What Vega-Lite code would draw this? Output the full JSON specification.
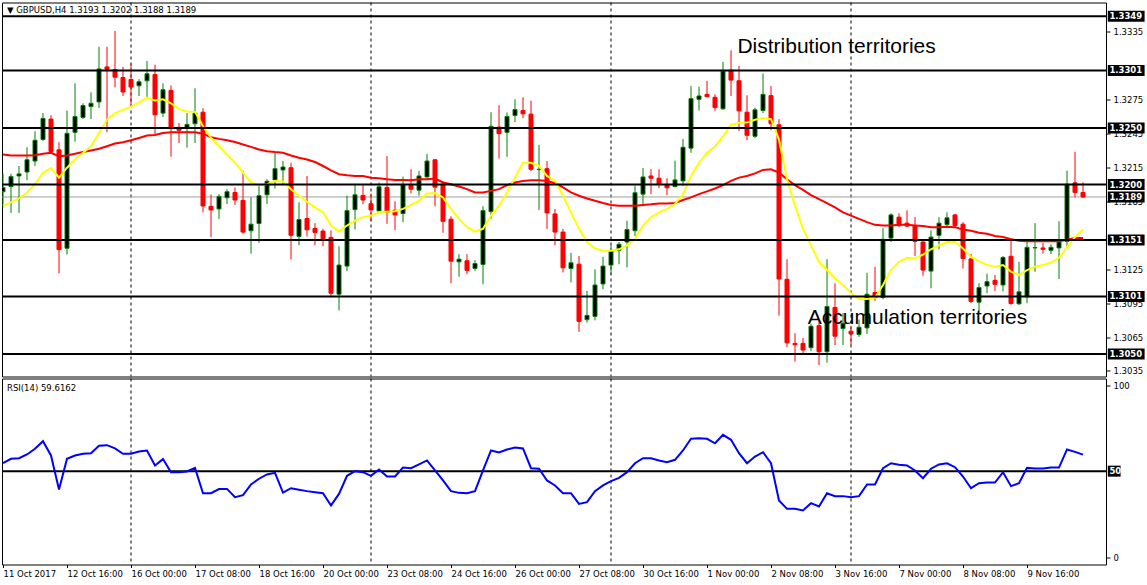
{
"$schema":"https://vega.github.io/schema/vega-lite/v6.json",
"background":"white",
"padding":{"left":0,"top":1.5,"right":0,"bottom":0},
"spacing":0,
"config":{"view":{"stroke":"black","strokeWidth":1},"axis":{"labelFont":"DejaVu Sans","labelFontSize":8.5,"labelColor":"black","tickColor":"black","grid":false,"domain":false},"scale":{"continuousPadding":0}},
"datasets":{
"seps":[{"i":16},{"i":46},{"i":76},{"i":106}],
"levels":[{"p":1.3349},{"p":1.3301},{"p":1.3250},{"p":1.3200},{"p":1.3151},{"p":1.3101},{"p":1.3050}],
"tags":[{"p":1.3349},{"p":1.3301},{"p":1.3250},{"p":1.3200},{"p":1.3189},{"p":1.3151},{"p":1.3101},{"p":1.3050}],
"candles":[
{"i":0,"o":1.31936,"h":1.32096,"l":1.31798,"c":1.31974},
{"i":1,"o":1.31982,"h":1.32096,"l":1.31749,"c":1.32070},
{"i":2,"o":1.32076,"h":1.32164,"l":1.31749,"c":1.32094},
{"i":3,"o":1.32111,"h":1.32330,"l":1.32038,"c":1.32219},
{"i":4,"o":1.32208,"h":1.32471,"l":1.32164,"c":1.32392},
{"i":5,"o":1.32398,"h":1.32632,"l":1.32386,"c":1.32585},
{"i":6,"o":1.32579,"h":1.32614,"l":1.32281,"c":1.32292},
{"i":7,"o":1.32307,"h":1.32374,"l":1.31213,"c":1.31424},
{"i":8,"o":1.31436,"h":1.32655,"l":1.31380,"c":1.32453},
{"i":9,"o":1.32462,"h":1.32895,"l":1.32380,"c":1.32602},
{"i":10,"o":1.32594,"h":1.32719,"l":1.32579,"c":1.32699},
{"i":11,"o":1.32690,"h":1.32816,"l":1.32579,"c":1.32719},
{"i":12,"o":1.32731,"h":1.33219,"l":1.32678,"c":1.33023},
{"i":13,"o":1.33041,"h":1.33219,"l":1.32462,"c":1.33020},
{"i":14,"o":1.33018,"h":1.33360,"l":1.32860,"c":1.32950},
{"i":15,"o":1.32947,"h":1.33041,"l":1.32784,"c":1.32819},
{"i":16,"o":1.32930,"h":1.33070,"l":1.32702,"c":1.32863},
{"i":17,"o":1.32874,"h":1.32933,"l":1.32784,"c":1.32909},
{"i":18,"o":1.32918,"h":1.33094,"l":1.32760,"c":1.32980},
{"i":19,"o":1.32974,"h":1.33061,"l":1.32442,"c":1.32617},
{"i":20,"o":1.32632,"h":1.32895,"l":1.32599,"c":1.32839},
{"i":21,"o":1.32833,"h":1.32877,"l":1.32246,"c":1.32494},
{"i":22,"o":1.32506,"h":1.32544,"l":1.32368,"c":1.32480},
{"i":23,"o":1.32497,"h":1.32632,"l":1.32327,"c":1.32532},
{"i":24,"o":1.32538,"h":1.32851,"l":1.32368,"c":1.32632},
{"i":25,"o":1.32640,"h":1.32675,"l":1.31754,"c":1.31810},
{"i":26,"o":1.31807,"h":1.31912,"l":1.31535,"c":1.31775},
{"i":27,"o":1.31784,"h":1.31915,"l":1.31696,"c":1.31895},
{"i":28,"o":1.31883,"h":1.31959,"l":1.31827,"c":1.31936},
{"i":29,"o":1.31930,"h":1.31974,"l":1.31819,"c":1.31863},
{"i":30,"o":1.31860,"h":1.32123,"l":1.31564,"c":1.31579},
{"i":31,"o":1.31591,"h":1.31886,"l":1.31389,"c":1.31649},
{"i":32,"o":1.31655,"h":1.31988,"l":1.31485,"c":1.31901},
{"i":33,"o":1.31909,"h":1.32047,"l":1.31827,"c":1.32029},
{"i":34,"o":1.32041,"h":1.32281,"l":1.31965,"c":1.32140},
{"i":35,"o":1.32129,"h":1.32208,"l":1.32003,"c":1.32155},
{"i":36,"o":1.32149,"h":1.32193,"l":1.31336,"c":1.31550},
{"i":37,"o":1.31541,"h":1.31842,"l":1.31462,"c":1.31690},
{"i":38,"o":1.31699,"h":1.32076,"l":1.31541,"c":1.31599},
{"i":39,"o":1.31611,"h":1.31658,"l":1.31462,"c":1.31576},
{"i":40,"o":1.31588,"h":1.31608,"l":1.31453,"c":1.31520},
{"i":41,"o":1.31532,"h":1.31594,"l":1.31000,"c":1.31038},
{"i":42,"o":1.31029,"h":1.31453,"l":1.30886,"c":1.31287},
{"i":43,"o":1.31278,"h":1.31901,"l":1.31234,"c":1.31769},
{"i":44,"o":1.31778,"h":1.31997,"l":1.31602,"c":1.31909},
{"i":45,"o":1.31904,"h":1.31994,"l":1.31825,"c":1.31863},
{"i":46,"o":1.31830,"h":1.31921,"l":1.31678,"c":1.31775},
{"i":47,"o":1.31766,"h":1.32018,"l":1.31749,"c":1.31980},
{"i":48,"o":1.31974,"h":1.32251,"l":1.31652,"c":1.31754},
{"i":49,"o":1.31772,"h":1.31851,"l":1.31596,"c":1.31731},
{"i":50,"o":1.31743,"h":1.32070,"l":1.31667,"c":1.31997},
{"i":51,"o":1.31994,"h":1.32135,"l":1.31921,"c":1.31959},
{"i":52,"o":1.31950,"h":1.32120,"l":1.31901,"c":1.32076},
{"i":53,"o":1.32067,"h":1.32272,"l":1.32061,"c":1.32208},
{"i":54,"o":1.32219,"h":1.32225,"l":1.31807,"c":1.31977},
{"i":55,"o":1.32003,"h":1.32032,"l":1.31573,"c":1.31675},
{"i":56,"o":1.31693,"h":1.31719,"l":1.31126,"c":1.31322},
{"i":57,"o":1.31316,"h":1.31383,"l":1.31184,"c":1.31339},
{"i":58,"o":1.31325,"h":1.31383,"l":1.31205,"c":1.31240},
{"i":59,"o":1.31257,"h":1.31330,"l":1.31237,"c":1.31301},
{"i":60,"o":1.31292,"h":1.31807,"l":1.31117,"c":1.31769},
{"i":61,"o":1.31760,"h":1.32640,"l":1.31696,"c":1.32515},
{"i":62,"o":1.32509,"h":1.32702,"l":1.32231,"c":1.32450},
{"i":63,"o":1.32462,"h":1.32637,"l":1.32246,"c":1.32602},
{"i":64,"o":1.32611,"h":1.32754,"l":1.32553,"c":1.32664},
{"i":65,"o":1.32655,"h":1.32772,"l":1.32588,"c":1.32626},
{"i":66,"o":1.32623,"h":1.32743,"l":1.32120,"c":1.32135},
{"i":67,"o":1.32132,"h":1.32351,"l":1.31775,"c":1.32135},
{"i":68,"o":1.32140,"h":1.32208,"l":1.31608,"c":1.31749},
{"i":69,"o":1.31740,"h":1.31784,"l":1.31462,"c":1.31579},
{"i":70,"o":1.31579,"h":1.31608,"l":1.31222,"c":1.31263},
{"i":71,"o":1.31257,"h":1.31395,"l":1.31134,"c":1.31307},
{"i":72,"o":1.31295,"h":1.31368,"l":1.30696,"c":1.30789},
{"i":73,"o":1.30804,"h":1.31058,"l":1.30778,"c":1.30842},
{"i":74,"o":1.30833,"h":1.31249,"l":1.30798,"c":1.31111},
{"i":75,"o":1.31120,"h":1.31360,"l":1.31073,"c":1.31278},
{"i":76,"o":1.31287,"h":1.31462,"l":1.31202,"c":1.31412},
{"i":77,"o":1.31418,"h":1.31491,"l":1.31295,"c":1.31471},
{"i":78,"o":1.31491,"h":1.31681,"l":1.31266,"c":1.31602},
{"i":79,"o":1.31591,"h":1.31988,"l":1.31544,"c":1.31927},
{"i":80,"o":1.31915,"h":1.32146,"l":1.31807,"c":1.32067},
{"i":81,"o":1.32076,"h":1.32135,"l":1.31915,"c":1.32056},
{"i":82,"o":1.32056,"h":1.32135,"l":1.31968,"c":1.32000},
{"i":83,"o":1.32000,"h":1.32056,"l":1.31906,"c":1.31971},
{"i":84,"o":1.31982,"h":1.32211,"l":1.31974,"c":1.32041},
{"i":85,"o":1.32032,"h":1.32404,"l":1.31988,"c":1.32330},
{"i":86,"o":1.32322,"h":1.32871,"l":1.32281,"c":1.32760},
{"i":87,"o":1.32754,"h":1.32866,"l":1.32655,"c":1.32784},
{"i":88,"o":1.32798,"h":1.32918,"l":1.32772,"c":1.32778},
{"i":89,"o":1.32772,"h":1.32798,"l":1.32652,"c":1.32681},
{"i":90,"o":1.32670,"h":1.33085,"l":1.32661,"c":1.33003},
{"i":91,"o":1.33012,"h":1.33187,"l":1.32784,"c":1.32924},
{"i":92,"o":1.32918,"h":1.33050,"l":1.32474,"c":1.32652},
{"i":93,"o":1.32640,"h":1.32790,"l":1.32392,"c":1.32436},
{"i":94,"o":1.32427,"h":1.32681,"l":1.32412,"c":1.32661},
{"i":95,"o":1.32655,"h":1.32982,"l":1.32632,"c":1.32798},
{"i":96,"o":1.32787,"h":1.32871,"l":1.32480,"c":1.32538},
{"i":97,"o":1.32529,"h":1.32579,"l":1.30839,"c":1.31164},
{"i":98,"o":1.31161,"h":1.31339,"l":1.30561,"c":1.30599},
{"i":99,"o":1.30594,"h":1.30684,"l":1.30433,"c":1.30582},
{"i":100,"o":1.30594,"h":1.30643,"l":1.30497,"c":1.30535},
{"i":101,"o":1.30556,"h":1.30766,"l":1.30526,"c":1.30746},
{"i":102,"o":1.30751,"h":1.30789,"l":1.30403,"c":1.30520},
{"i":103,"o":1.30520,"h":1.31339,"l":1.30424,"c":1.30921},
{"i":104,"o":1.30912,"h":1.31126,"l":1.30579,"c":1.30658},
{"i":105,"o":1.30725,"h":1.30863,"l":1.30579,"c":1.30772},
{"i":106,"o":1.30702,"h":1.30746,"l":1.30579,"c":1.30678},
{"i":107,"o":1.30673,"h":1.30804,"l":1.30652,"c":1.30737},
{"i":108,"o":1.30731,"h":1.31219,"l":1.30678,"c":1.31029},
{"i":109,"o":1.31044,"h":1.31272,"l":1.30971,"c":1.31000},
{"i":110,"o":1.31000,"h":1.31614,"l":1.30985,"c":1.31515},
{"i":111,"o":1.31526,"h":1.31746,"l":1.31491,"c":1.31731},
{"i":112,"o":1.31711,"h":1.31746,"l":1.31623,"c":1.31637},
{"i":113,"o":1.31658,"h":1.31772,"l":1.31623,"c":1.31632},
{"i":114,"o":1.31632,"h":1.31711,"l":1.31368,"c":1.31497},
{"i":115,"o":1.31491,"h":1.31506,"l":1.31193,"c":1.31243},
{"i":116,"o":1.31234,"h":1.31594,"l":1.31082,"c":1.31535},
{"i":117,"o":1.31550,"h":1.31711,"l":1.31427,"c":1.31658},
{"i":118,"o":1.31646,"h":1.31754,"l":1.31623,"c":1.31705},
{"i":119,"o":1.31731,"h":1.31740,"l":1.31623,"c":1.31637},
{"i":120,"o":1.31649,"h":1.31667,"l":1.31257,"c":1.31345},
{"i":121,"o":1.31342,"h":1.31386,"l":1.30950,"c":1.30965},
{"i":122,"o":1.30959,"h":1.31126,"l":1.30868,"c":1.31088},
{"i":123,"o":1.31102,"h":1.31211,"l":1.31038,"c":1.31140},
{"i":124,"o":1.31152,"h":1.31199,"l":1.31058,"c":1.31117},
{"i":125,"o":1.31111,"h":1.31368,"l":1.31053,"c":1.31354},
{"i":126,"o":1.31365,"h":1.31520,"l":1.30936,"c":1.30947},
{"i":127,"o":1.30944,"h":1.31316,"l":1.30936,"c":1.31050},
{"i":128,"o":1.31006,"h":1.31497,"l":1.30950,"c":1.31444},
{"i":129,"o":1.31439,"h":1.31658,"l":1.31228,"c":1.31442},
{"i":130,"o":1.31439,"h":1.31485,"l":1.31389,"c":1.31427},
{"i":131,"o":1.31418,"h":1.31471,"l":1.31383,"c":1.31444},
{"i":132,"o":1.31439,"h":1.31675,"l":1.31164,"c":1.31494},
{"i":133,"o":1.31497,"h":1.32123,"l":1.31447,"c":1.32003},
{"i":134,"o":1.32015,"h":1.32289,"l":1.31886,"c":1.31930},
{"i":135,"o":1.31930,"h":1.32020,"l":1.31880,"c":1.31890}
],
"ma":[
{"i":0,"f":1.31813,"s":1.32266},{"i":1,"f":1.31842,"s":1.32257},{"i":2,"f":1.31877,"s":1.32257},{"i":3,"f":1.31930,"s":1.32257},{"i":4,"f":1.32003,"s":1.32260},{"i":5,"f":1.32105,"s":1.32272},{"i":6,"f":1.32146,"s":1.32281},{"i":7,"f":1.32061,"s":1.32251},{"i":8,"f":1.32149,"s":1.32257},{"i":9,"f":1.32222,"s":1.32272},
{"i":10,"f":1.32281,"s":1.32287},{"i":11,"f":1.32339,"s":1.32301},{"i":12,"f":1.32456,"s":1.32316},{"i":13,"f":1.32573,"s":1.32339},{"i":14,"f":1.32632,"s":1.32363},{"i":15,"f":1.32661,"s":1.32374},{"i":16,"f":1.32690,"s":1.32392},{"i":17,"f":1.32725,"s":1.32412},{"i":18,"f":1.32769,"s":1.32433},{"i":19,"f":1.32743,"s":1.32439},
{"i":20,"f":1.32754,"s":1.32456},{"i":21,"f":1.32719,"s":1.32462},{"i":22,"f":1.32667,"s":1.32462},{"i":23,"f":1.32646,"s":1.32462},{"i":24,"f":1.32643,"s":1.32462},{"i":25,"f":1.32515,"s":1.32450},{"i":26,"f":1.32412,"s":1.32418},{"i":27,"f":1.32339,"s":1.32404},{"i":28,"f":1.32266,"s":1.32392},{"i":29,"f":1.32193,"s":1.32377},
{"i":30,"f":1.32105,"s":1.32354},{"i":31,"f":1.32018,"s":1.32333},{"i":32,"f":1.31994,"s":1.32310},{"i":33,"f":1.32003,"s":1.32295},{"i":34,"f":1.32032,"s":1.32287},{"i":35,"f":1.32026,"s":1.32281},{"i":36,"f":1.31959,"s":1.32257},{"i":37,"f":1.31901,"s":1.32237},{"i":38,"f":1.31848,"s":1.32222},{"i":39,"f":1.31798,"s":1.32199},
{"i":40,"f":1.31754,"s":1.32164},{"i":41,"f":1.31637,"s":1.32126},{"i":42,"f":1.31585,"s":1.32091},{"i":43,"f":1.31637,"s":1.32082},{"i":44,"f":1.31681,"s":1.32076},{"i":45,"f":1.31711,"s":1.32076},{"i":46,"f":1.31725,"s":1.32061},{"i":47,"f":1.31754,"s":1.32056},{"i":48,"f":1.31760,"s":1.32047},{"i":49,"f":1.31763,"s":1.32041},
{"i":50,"f":1.31784,"s":1.32041},{"i":51,"f":1.31819,"s":1.32038},{"i":52,"f":1.31857,"s":1.32047},{"i":53,"f":1.31921,"s":1.32047},{"i":54,"f":1.31924,"s":1.32053},{"i":55,"f":1.31886,"s":1.32018},{"i":56,"f":1.31784,"s":1.32003},{"i":57,"f":1.31696,"s":1.31982},{"i":58,"f":1.31623,"s":1.31959},{"i":59,"f":1.31585,"s":1.31930},
{"i":60,"f":1.31608,"s":1.31930},{"i":61,"f":1.31725,"s":1.31944},{"i":62,"f":1.31813,"s":1.31959},{"i":63,"f":1.31930,"s":1.31994},{"i":64,"f":1.32061,"s":1.32018},{"i":65,"f":1.32193,"s":1.32032},{"i":66,"f":1.32193,"s":1.32038},{"i":67,"f":1.32164,"s":1.32038},{"i":68,"f":1.32076,"s":1.32032},{"i":69,"f":1.32032,"s":1.32012},
{"i":70,"f":1.31901,"s":1.31974},{"i":71,"f":1.31754,"s":1.31930},{"i":72,"f":1.31608,"s":1.31901},{"i":73,"f":1.31491,"s":1.31877},{"i":74,"f":1.31433,"s":1.31857},{"i":75,"f":1.31415,"s":1.31836},{"i":76,"f":1.31415,"s":1.31819},{"i":77,"f":1.31427,"s":1.31813},{"i":78,"f":1.31462,"s":1.31813},{"i":79,"f":1.31520,"s":1.31813},
{"i":80,"f":1.31637,"s":1.31819},{"i":81,"f":1.31711,"s":1.31825},{"i":82,"f":1.31754,"s":1.31833},{"i":83,"f":1.31784,"s":1.31833},{"i":84,"f":1.31827,"s":1.31836},{"i":85,"f":1.31915,"s":1.31863},{"i":86,"f":1.32076,"s":1.31886},{"i":87,"f":1.32193,"s":1.31915},{"i":88,"f":1.32281,"s":1.31939},{"i":89,"f":1.32339,"s":1.31965},
{"i":90,"f":1.32427,"s":1.31994},{"i":91,"f":1.32529,"s":1.32032},{"i":92,"f":1.32544,"s":1.32061},{"i":93,"f":1.32550,"s":1.32076},{"i":94,"f":1.32573,"s":1.32099},{"i":95,"f":1.32588,"s":1.32129},{"i":96,"f":1.32579,"s":1.32135},{"i":97,"f":1.32398,"s":1.32105},{"i":98,"f":1.32047,"s":1.32047},{"i":99,"f":1.31813,"s":1.31994},
{"i":100,"f":1.31608,"s":1.31953},{"i":101,"f":1.31462,"s":1.31906},{"i":102,"f":1.31316,"s":1.31871},{"i":103,"f":1.31243,"s":1.31836},{"i":104,"f":1.31170,"s":1.31798},{"i":105,"f":1.31111,"s":1.31754},{"i":106,"f":1.31038,"s":1.31725},{"i":107,"f":1.30988,"s":1.31696},{"i":108,"f":1.30988,"s":1.31667},{"i":109,"f":1.31000,"s":1.31643},
{"i":110,"f":1.31111,"s":1.31637},{"i":111,"f":1.31243,"s":1.31637},{"i":112,"f":1.31316,"s":1.31643},{"i":113,"f":1.31351,"s":1.31643},{"i":114,"f":1.31345,"s":1.31637},{"i":115,"f":1.31380,"s":1.31632},{"i":116,"f":1.31427,"s":1.31623},{"i":117,"f":1.31462,"s":1.31623},{"i":118,"f":1.31491,"s":1.31626},{"i":119,"f":1.31491,"s":1.31623},
{"i":120,"f":1.31433,"s":1.31602},{"i":121,"f":1.31360,"s":1.31591},{"i":122,"f":1.31322,"s":1.31573},{"i":123,"f":1.31287,"s":1.31564},{"i":124,"f":1.31272,"s":1.31544},{"i":125,"f":1.31287,"s":1.31535},{"i":126,"f":1.31228,"s":1.31515},{"i":127,"f":1.31199,"s":1.31503},{"i":128,"f":1.31243,"s":1.31497},{"i":129,"f":1.31272,"s":1.31497},
{"i":130,"f":1.31287,"s":1.31497},{"i":131,"f":1.31310,"s":1.31497},{"i":132,"f":1.31351,"s":1.31497},{"i":133,"f":1.31447,"s":1.31512},{"i":134,"f":1.31535,"s":1.31526},{"i":135,"f":1.31602,"s":1.31526}
],
"rsi":[
{"i":0,"v":54.6},{"i":1,"v":57.2},{"i":2,"v":57.5},{"i":3,"v":59.7},{"i":4,"v":63.0},{"i":5,"v":67.4},{"i":6,"v":59.1},{"i":7,"v":39.4},{"i":8,"v":57.2},{"i":9,"v":59.1},
{"i":10,"v":60.1},{"i":11,"v":60.4},{"i":12,"v":64.7},{"i":13,"v":65.1},{"i":14,"v":63.2},{"i":15,"v":60.1},{"i":16,"v":60.1},{"i":17,"v":61.4},{"i":18,"v":62.0},{"i":19,"v":53.3},
{"i":20,"v":57.0},{"i":21,"v":49.4},{"i":22,"v":49.4},{"i":23,"v":49.8},{"i":24,"v":51.9},{"i":25,"v":37.2},{"i":26,"v":37.2},{"i":27,"v":39.6},{"i":28,"v":39.7},{"i":29,"v":34.9},
{"i":30,"v":36.1},{"i":31,"v":42.3},{"i":32,"v":45.6},{"i":33,"v":48.1},{"i":34,"v":49.0},{"i":35,"v":37.6},{"i":36,"v":40.1},{"i":37,"v":39.2},{"i":38,"v":38.4},{"i":39,"v":37.8},
{"i":40,"v":37.2},{"i":41,"v":30.1},{"i":42,"v":36.8},{"i":43,"v":47.3},{"i":44,"v":50.0},{"i":45,"v":49.4},{"i":46,"v":47.3},{"i":47,"v":51.0},{"i":48,"v":46.9},{"i":49,"v":46.9},
{"i":50,"v":52.1},{"i":51,"v":51.7},{"i":52,"v":53.9},{"i":53,"v":56.2},{"i":54,"v":50.4},{"i":55,"v":44.6},{"i":56,"v":38.4},{"i":57,"v":37.4},{"i":58,"v":37.2},{"i":59,"v":38.4},
{"i":60,"v":50.4},{"i":61,"v":62.0},{"i":62,"v":60.8},{"i":63,"v":62.6},{"i":64,"v":63.7},{"i":65,"v":63.2},{"i":66,"v":51.7},{"i":67,"v":51.4},{"i":68,"v":44.6},{"i":69,"v":41.7},
{"i":70,"v":37.2},{"i":71,"v":37.2},{"i":72,"v":31.0},{"i":73,"v":32.0},{"i":74,"v":38.4},{"i":75,"v":41.7},{"i":76,"v":44.2},{"i":77,"v":46.1},{"i":78,"v":49.4},{"i":79,"v":54.6},
{"i":80,"v":57.5},{"i":81,"v":57.5},{"i":82,"v":56.2},{"i":83,"v":55.2},{"i":84,"v":56.6},{"i":85,"v":62.0},{"i":86,"v":68.8},{"i":87,"v":69.1},{"i":88,"v":68.8},{"i":89,"v":66.2},
{"i":90,"v":71.1},{"i":91,"v":68.2},{"i":92,"v":60.4},{"i":93,"v":54.6},{"i":94,"v":58.5},{"i":95,"v":61.0},{"i":96,"v":54.6},{"i":97,"v":33.0},{"i":98,"v":28.1},{"i":99,"v":28.1},
{"i":100,"v":27.2},{"i":101,"v":31.4},{"i":102,"v":29.5},{"i":103,"v":37.2},{"i":104,"v":35.5},{"i":105,"v":35.5},{"i":106,"v":34.9},{"i":107,"v":35.5},{"i":108,"v":42.3},{"i":109,"v":42.3},
{"i":110,"v":51.7},{"i":111,"v":54.6},{"i":112,"v":53.7},{"i":113,"v":53.3},{"i":114,"v":50.4},{"i":115,"v":45.9},{"i":116,"v":51.4},{"i":117,"v":53.9},{"i":118,"v":54.6},{"i":119,"v":52.3},
{"i":120,"v":46.9},{"i":121,"v":40.1},{"i":122,"v":43.0},{"i":123,"v":43.4},{"i":124,"v":43.4},{"i":125,"v":49.4},{"i":126,"v":41.3},{"i":127,"v":43.0},{"i":128,"v":51.9},{"i":129,"v":51.5},
{"i":130,"v":51.5},{"i":131,"v":52.1},{"i":132,"v":52.1},{"i":133,"v":62.6},{"i":134,"v":61.2},{"i":135,"v":59.6}
]
},
"vconcat":[
{
"width":1104,"height":374,
"layer":[
{"data":{"name":"seps"},"mark":{"type":"rule","strokeDash":[3,3],"color":"black","strokeWidth":1},
 "encoding":{"x":{"field":"i","type":"quantitative","scale":{"domain":[-0.125,137.875],"nice":false,"zero":false,"padding":0},"axis":null}}},
{"data":{"values":[{"p":1.3189}]},"mark":{"type":"rule","color":"#a0a0a0","strokeWidth":1},
 "encoding":{"y":{"field":"p","type":"quantitative","scale":{"domain":[1.30301,1.33611],"nice":false,"zero":false,"padding":0},
  "axis":{"orient":"right","title":null,"values":[1.3035,1.3065,1.3095,1.3125,1.3185,1.3215,1.3245,1.3275,1.3335],"format":".4f","tickSize":4,"labelPadding":3,"labelOverlap":false,"labelBound":false,"labelFlush":false}}}},
{"data":{"name":"candles"},"mark":{"type":"rule","strokeWidth":1,"clip":true},
 "encoding":{"x":{"field":"i","type":"quantitative","scale":{"domain":[-0.125,137.875],"nice":false,"zero":false,"padding":0},"axis":null},
  "y":{"field":"l","type":"quantitative","scale":{"domain":[1.30301,1.33611],"nice":false,"zero":false,"padding":0},
   "axis":{"orient":"right","title":null,"values":[1.3035,1.3065,1.3095,1.3125,1.3185,1.3215,1.3245,1.3275,1.3335],"format":".4f","tickSize":4,"labelPadding":3,"labelOverlap":false,"labelBound":false,"labelFlush":false}},
  "y2":{"field":"h"},
  "color":{"condition":{"test":"datum.c >= datum.o","value":"#008000"},"value":"#ff0000"}}},
{"data":{"name":"candles"},"mark":{"type":"bar","width":4,"strokeWidth":1,"clip":true},
 "encoding":{"x":{"field":"i","type":"quantitative","scale":{"domain":[-0.125,137.875],"nice":false,"zero":false,"padding":0},"axis":null},
  "y":{"field":"o","type":"quantitative","scale":{"domain":[1.30301,1.33611],"nice":false,"zero":false,"padding":0},
   "axis":{"orient":"right","title":null,"values":[1.3035,1.3065,1.3095,1.3125,1.3185,1.3215,1.3245,1.3275,1.3335],"format":".4f","tickSize":4,"labelPadding":3,"labelOverlap":false,"labelBound":false,"labelFlush":false}},
  "y2":{"field":"c"},
  "fill":{"condition":{"test":"datum.c >= datum.o","value":"#000000"},"value":"#ff0000"},
  "stroke":{"condition":{"test":"datum.c >= datum.o","value":"#008000"},"value":"#ff0000"}}},
{"data":{"name":"ma"},"mark":{"type":"line","color":"#ff0000","strokeWidth":2,"clip":true},
 "encoding":{"x":{"field":"i","type":"quantitative","scale":{"domain":[-0.125,137.875],"nice":false,"zero":false,"padding":0},"axis":null},
  "y":{"field":"s","type":"quantitative","scale":{"domain":[1.30301,1.33611],"nice":false,"zero":false,"padding":0},
   "axis":{"orient":"right","title":null,"values":[1.3035,1.3065,1.3095,1.3125,1.3185,1.3215,1.3245,1.3275,1.3335],"format":".4f","tickSize":4,"labelPadding":3,"labelOverlap":false,"labelBound":false,"labelFlush":false}}}},
{"data":{"name":"ma"},"mark":{"type":"line","color":"#ffff00","strokeWidth":2,"clip":true},
 "encoding":{"x":{"field":"i","type":"quantitative","scale":{"domain":[-0.125,137.875],"nice":false,"zero":false,"padding":0},"axis":null},
  "y":{"field":"f","type":"quantitative","scale":{"domain":[1.30301,1.33611],"nice":false,"zero":false,"padding":0},
   "axis":{"orient":"right","title":null,"values":[1.3035,1.3065,1.3095,1.3125,1.3185,1.3215,1.3245,1.3275,1.3335],"format":".4f","tickSize":4,"labelPadding":3,"labelOverlap":false,"labelBound":false,"labelFlush":false}}}},
{"data":{"name":"levels"},"mark":{"type":"rule","color":"black","strokeWidth":2},
 "encoding":{"y":{"field":"p","type":"quantitative","scale":{"domain":[1.30301,1.33611],"nice":false,"zero":false,"padding":0},
   "axis":{"orient":"right","title":null,"values":[1.3035,1.3065,1.3095,1.3125,1.3185,1.3215,1.3245,1.3275,1.3335],"format":".4f","tickSize":4,"labelPadding":3,"labelOverlap":false,"labelBound":false,"labelFlush":false}}}},
{"data":{"name":"tags"},"mark":{"type":"bar","orient":"horizontal","size":11,"color":"black"},
 "encoding":{"x":{"datum":138.1,"type":"quantitative","scale":{"domain":[-0.125,137.875],"nice":false,"zero":false,"padding":0},"axis":null},
  "x2":{"datum":142.7},
  "y":{"field":"p","type":"quantitative","scale":{"domain":[1.30301,1.33611],"nice":false,"zero":false,"padding":0},
   "axis":{"orient":"right","title":null,"values":[1.3035,1.3065,1.3095,1.3125,1.3185,1.3215,1.3245,1.3275,1.3335],"format":".4f","tickSize":4,"labelPadding":3,"labelOverlap":false,"labelBound":false,"labelFlush":false}}}},
{"data":{"name":"tags"},"mark":{"type":"text","align":"left","baseline":"middle","font":"DejaVu Sans","fontWeight":"bold","fontSize":8.5,"color":"white"},
 "encoding":{"x":{"datum":138.3,"type":"quantitative","scale":{"domain":[-0.125,137.875],"nice":false,"zero":false,"padding":0},"axis":null},
  "y":{"field":"p","type":"quantitative","scale":{"domain":[1.30301,1.33611],"nice":false,"zero":false,"padding":0},
   "axis":{"orient":"right","title":null,"values":[1.3035,1.3065,1.3095,1.3125,1.3185,1.3215,1.3245,1.3275,1.3335],"format":".4f","tickSize":4,"labelPadding":3,"labelOverlap":false,"labelBound":false,"labelFlush":false}},
  "text":{"field":"p","type":"quantitative","format":".4f"}}},
{"data":{"values":[{"t":"▼ GBPUSD,H4  1.3193 1.3202 1.3188 1.3189"}]},"mark":{"type":"text","align":"left","baseline":"middle","font":"DejaVu Sans","fontSize":8.5,"color":"black"},
 "encoding":{"x":{"datum":0.5,"type":"quantitative","scale":{"domain":[-0.125,137.875],"nice":false,"zero":false,"padding":0},"axis":null},
  "y":{"datum":1.33545,"type":"quantitative","scale":{"domain":[1.30301,1.33611],"nice":false,"zero":false,"padding":0},
   "axis":{"orient":"right","title":null,"values":[1.3035,1.3065,1.3095,1.3125,1.3185,1.3215,1.3245,1.3275,1.3335],"format":".4f","tickSize":4,"labelPadding":3,"labelOverlap":false,"labelBound":false,"labelFlush":false}},
  "text":{"field":"t"}}},
{"data":{"values":[{"t":"Distribution territories"}]},"mark":{"type":"text","align":"left","baseline":"middle","font":"Liberation Sans","fontSize":21,"color":"black"},
 "encoding":{"x":{"datum":91.8,"type":"quantitative","scale":{"domain":[-0.125,137.875],"nice":false,"zero":false,"padding":0},"axis":null},
  "y":{"datum":1.33217,"type":"quantitative","scale":{"domain":[1.30301,1.33611],"nice":false,"zero":false,"padding":0},
   "axis":{"orient":"right","title":null,"values":[1.3035,1.3065,1.3095,1.3125,1.3185,1.3215,1.3245,1.3275,1.3335],"format":".4f","tickSize":4,"labelPadding":3,"labelOverlap":false,"labelBound":false,"labelFlush":false}},
  "text":{"field":"t"}}},
{"data":{"values":[{"t":"Accumulation territories"}]},"mark":{"type":"text","align":"left","baseline":"middle","font":"Liberation Sans","fontSize":21,"color":"black"},
 "encoding":{"x":{"datum":100.6,"type":"quantitative","scale":{"domain":[-0.125,137.875],"nice":false,"zero":false,"padding":0},"axis":null},
  "y":{"datum":1.30819,"type":"quantitative","scale":{"domain":[1.30301,1.33611],"nice":false,"zero":false,"padding":0},
   "axis":{"orient":"right","title":null,"values":[1.3035,1.3065,1.3095,1.3125,1.3185,1.3215,1.3245,1.3275,1.3335],"format":".4f","tickSize":4,"labelPadding":3,"labelOverlap":false,"labelBound":false,"labelFlush":false}},
  "text":{"field":"t"}}}
]
},
{
"width":1104,"height":186,
"layer":[
{"data":{"name":"seps"},"mark":{"type":"rule","strokeDash":[3,3],"color":"black","strokeWidth":1},
 "encoding":{"x":{"field":"i","type":"quantitative","scale":{"domain":[-0.125,137.875],"nice":false,"zero":false,"padding":0},
   "axis":{"title":null,"values":[0,8,16,24,32,40,48,56,64,72,80,88,96,104,112,120,128],
    "labelExpr":"['11 Oct 2017','12 Oct 16:00','16 Oct 00:00','17 Oct 08:00','18 Oct 16:00','20 Oct 00:00','23 Oct 08:00','24 Oct 16:00','26 Oct 00:00','27 Oct 08:00','30 Oct 16:00','1 Nov 00:00','2 Nov 08:00','3 Nov 16:00','7 Nov 00:00','8 Nov 08:00','9 Nov 16:00'][round(datum.value/8)]",
    "labelAlign":"left","labelBaseline":"top","tickSize":3,"labelPadding":2,"labelOverlap":false,"labelBound":false,"labelFlush":false}}}},
{"data":{"values":[{"v":50}]},"mark":{"type":"rule","color":"black","strokeWidth":2},
 "encoding":{"y":{"field":"v","type":"quantitative","scale":{"domain":[-4.2,103.8],"nice":false,"zero":false,"padding":0},
  "axis":{"orient":"right","title":null,"values":[0,100],"tickSize":4,"labelPadding":3,"labelOverlap":false,"labelBound":false,"labelFlush":false}}}},
{"data":{"name":"rsi"},"mark":{"type":"line","color":"#0000ff","strokeWidth":2,"clip":true},
 "encoding":{"x":{"field":"i","type":"quantitative","scale":{"domain":[-0.125,137.875],"nice":false,"zero":false,"padding":0},
   "axis":{"title":null,"values":[0,8,16,24,32,40,48,56,64,72,80,88,96,104,112,120,128],
    "labelExpr":"['11 Oct 2017','12 Oct 16:00','16 Oct 00:00','17 Oct 08:00','18 Oct 16:00','20 Oct 00:00','23 Oct 08:00','24 Oct 16:00','26 Oct 00:00','27 Oct 08:00','30 Oct 16:00','1 Nov 00:00','2 Nov 08:00','3 Nov 16:00','7 Nov 00:00','8 Nov 08:00','9 Nov 16:00'][round(datum.value/8)]",
    "labelAlign":"left","labelBaseline":"top","tickSize":3,"labelPadding":2,"labelOverlap":false,"labelBound":false,"labelFlush":false}},
  "y":{"field":"v","type":"quantitative","scale":{"domain":[-4.2,103.8],"nice":false,"zero":false,"padding":0},
   "axis":{"orient":"right","title":null,"values":[0,100],"tickSize":4,"labelPadding":3,"labelOverlap":false,"labelBound":false,"labelFlush":false}}}},
{"data":{"values":[{"v":50}]},"mark":{"type":"bar","orient":"horizontal","size":11,"color":"black"},
 "encoding":{"x":{"datum":138.1,"type":"quantitative","scale":{"domain":[-0.125,137.875],"nice":false,"zero":false,"padding":0},
   "axis":{"title":null,"values":[0,8,16,24,32,40,48,56,64,72,80,88,96,104,112,120,128],
    "labelExpr":"['11 Oct 2017','12 Oct 16:00','16 Oct 00:00','17 Oct 08:00','18 Oct 16:00','20 Oct 00:00','23 Oct 08:00','24 Oct 16:00','26 Oct 00:00','27 Oct 08:00','30 Oct 16:00','1 Nov 00:00','2 Nov 08:00','3 Nov 16:00','7 Nov 00:00','8 Nov 08:00','9 Nov 16:00'][round(datum.value/8)]",
    "labelAlign":"left","labelBaseline":"top","tickSize":3,"labelPadding":2,"labelOverlap":false,"labelBound":false,"labelFlush":false}},
  "x2":{"datum":139.7},
  "y":{"field":"v","type":"quantitative","scale":{"domain":[-4.2,103.8],"nice":false,"zero":false,"padding":0},
   "axis":{"orient":"right","title":null,"values":[0,100],"tickSize":4,"labelPadding":3,"labelOverlap":false,"labelBound":false,"labelFlush":false}}}},
{"data":{"values":[{"v":50}]},"mark":{"type":"text","align":"left","baseline":"middle","font":"DejaVu Sans","fontWeight":"bold","fontSize":8.5,"color":"white"},
 "encoding":{"x":{"datum":138.3,"type":"quantitative","scale":{"domain":[-0.125,137.875],"nice":false,"zero":false,"padding":0},
   "axis":{"title":null,"values":[0,8,16,24,32,40,48,56,64,72,80,88,96,104,112,120,128],
    "labelExpr":"['11 Oct 2017','12 Oct 16:00','16 Oct 00:00','17 Oct 08:00','18 Oct 16:00','20 Oct 00:00','23 Oct 08:00','24 Oct 16:00','26 Oct 00:00','27 Oct 08:00','30 Oct 16:00','1 Nov 00:00','2 Nov 08:00','3 Nov 16:00','7 Nov 00:00','8 Nov 08:00','9 Nov 16:00'][round(datum.value/8)]",
    "labelAlign":"left","labelBaseline":"top","tickSize":3,"labelPadding":2,"labelOverlap":false,"labelBound":false,"labelFlush":false}},
  "y":{"field":"v","type":"quantitative","scale":{"domain":[-4.2,103.8],"nice":false,"zero":false,"padding":0},
   "axis":{"orient":"right","title":null,"values":[0,100],"tickSize":4,"labelPadding":3,"labelOverlap":false,"labelBound":false,"labelFlush":false}},
  "text":{"field":"v","type":"quantitative"}}},
{"data":{"values":[{"t":"RSI(14) 59.6162"}]},"mark":{"type":"text","align":"left","baseline":"middle","font":"DejaVu Sans","fontSize":8.5,"color":"black"},
 "encoding":{"x":{"datum":0.5,"type":"quantitative","scale":{"domain":[-0.125,137.875],"nice":false,"zero":false,"padding":0},
   "axis":{"title":null,"values":[0,8,16,24,32,40,48,56,64,72,80,88,96,104,112,120,128],
    "labelExpr":"['11 Oct 2017','12 Oct 16:00','16 Oct 00:00','17 Oct 08:00','18 Oct 16:00','20 Oct 00:00','23 Oct 08:00','24 Oct 16:00','26 Oct 00:00','27 Oct 08:00','30 Oct 16:00','1 Nov 00:00','2 Nov 08:00','3 Nov 16:00','7 Nov 00:00','8 Nov 08:00','9 Nov 16:00'][round(datum.value/8)]",
    "labelAlign":"left","labelBaseline":"top","tickSize":3,"labelPadding":2,"labelOverlap":false,"labelBound":false,"labelFlush":false}},
  "y":{"datum":98.3,"type":"quantitative","scale":{"domain":[-4.2,103.8],"nice":false,"zero":false,"padding":0},
   "axis":{"orient":"right","title":null,"values":[0,100],"tickSize":4,"labelPadding":3,"labelOverlap":false,"labelBound":false,"labelFlush":false}},
  "text":{"field":"t"}}}
]
}
]
}
